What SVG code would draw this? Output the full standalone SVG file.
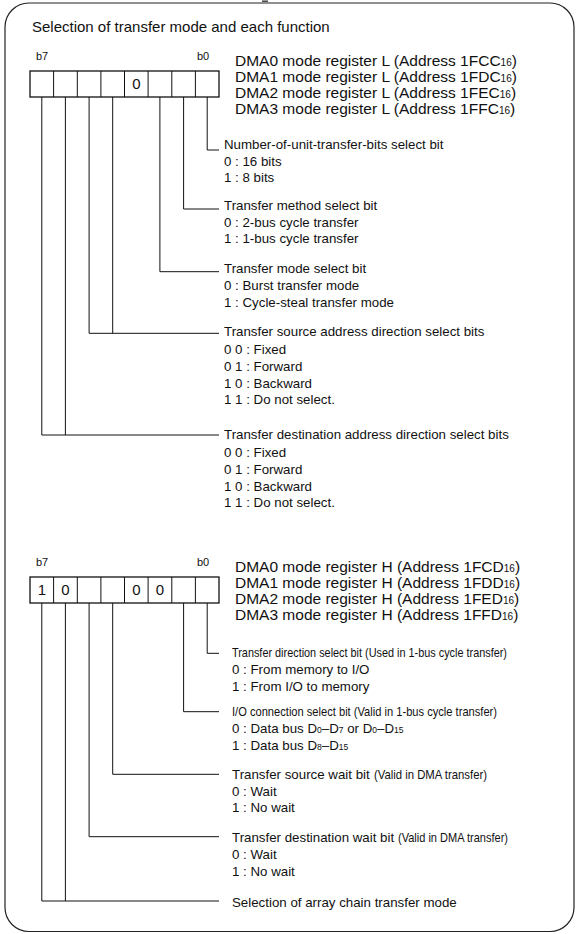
<svg xmlns="http://www.w3.org/2000/svg" width="578" height="934" viewBox="0 0 578 934">
<defs>
<style>
text{font-family:"Liberation Sans",Arial,sans-serif;fill:#111}
.t{font-size:15px}
.reg{font-size:15.5px}
.sub{font-size:10px}
.d{font-size:13.3px}
.c{font-size:13px}
.s{font-size:8.5px}
.bl{font-size:11px}
.dig{font-size:15px}
.box{fill:none;stroke:#111;stroke-width:1.3}
.cell{stroke:#111;stroke-width:1}
.ld{fill:none;stroke:#111;stroke-width:1}
.frame{fill:none;stroke:#222;stroke-width:1.2}
</style>
</defs>
<rect width="578" height="934" fill="#fff"/>
<rect class="frame" x="5" y="3" width="569" height="928.5" rx="24" ry="24"/>
<line x1="262" y1="1.2" x2="268" y2="1.2" stroke="#444" stroke-width="1.5"/>
<text class="t" x="32" y="31.5">Selection of transfer mode and each function</text>

<g id="regL">
<text class="bl" x="36" y="60">b7</text>
<text class="bl" x="197" y="60">b0</text>
<rect class="box" x="30" y="71" width="189" height="26"/>
<path class="cell" d="M53.6 71V97M77.3 71V97M100.9 71V97M124.5 71V97M148.1 71V97M171.8 71V97M195.4 71V97"/>
<text class="dig" x="136.3" y="89" text-anchor="middle">0</text>
<text class="reg" x="235" y="65.7">DMA0 mode register L (Address 1FCC<tspan class="sub">16</tspan>)</text>
<text class="reg" x="235" y="81.7">DMA1 mode register L (Address 1FDC<tspan class="sub">16</tspan>)</text>
<text class="reg" x="235" y="97.7">DMA2 mode register L (Address 1FEC<tspan class="sub">16</tspan>)</text>
<text class="reg" x="235" y="113.7">DMA3 mode register L (Address 1FFC<tspan class="sub">16</tspan>)</text>
</g>

<g id="regH">
<text class="bl" x="36" y="566">b7</text>
<text class="bl" x="197" y="566">b0</text>
<rect class="box" x="30" y="577" width="189" height="26"/>
<path class="cell" d="M53.6 577V603M77.3 577V603M100.9 577V603M124.5 577V603M148.1 577V603M171.8 577V603M195.4 577V603"/>
<text class="dig" x="41.8" y="595" text-anchor="middle">1</text>
<text class="dig" x="65.4" y="595" text-anchor="middle">0</text>
<text class="dig" x="136.3" y="595" text-anchor="middle">0</text>
<text class="dig" x="159.9" y="595" text-anchor="middle">0</text>
<text class="reg" x="235" y="571.7">DMA0 mode register H (Address 1FCD<tspan class="sub">16</tspan>)</text>
<text class="reg" x="235" y="587.7">DMA1 mode register H (Address 1FDD<tspan class="sub">16</tspan>)</text>
<text class="reg" x="235" y="603.7">DMA2 mode register H (Address 1FED<tspan class="sub">16</tspan>)</text>
<text class="reg" x="235" y="619.7">DMA3 mode register H (Address 1FFD<tspan class="sub">16</tspan>)</text>
</g>

<g id="connectors">
<path class="ld" d="M207.2 97V150H219"/>
<path class="ld" d="M183.6 97V209H219"/>
<path class="ld" d="M159.9 97V271.7H219"/>
<path class="ld" d="M89.1 97V333.3H219M112.7 97V333.3"/>
<path class="ld" d="M41.8 97V435H219M65.4 97V435"/>
<path class="ld" d="M207.2 603V653.3H219"/>
<path class="ld" d="M183.6 603V711.7H219"/>
<path class="ld" d="M112.7 603V774.3H219"/>
<path class="ld" d="M89.1 603V836.7H219"/>
<path class="ld" d="M41.8 603V901H219M65.4 603V901"/>
</g>

<g id="unitbits">
<text class="d" x="224" y="148.5">Number-of-unit-transfer-bits select bit</text>
<text class="d" x="224" y="165.5">0 : 16 bits</text>
<text class="d" x="224" y="182.3">1 : 8 bits</text>
</g>
<g id="method">
<text class="d" x="224" y="210">Transfer method select bit</text>
<text class="d" x="224" y="226.7">0 : 2-bus cycle transfer</text>
<text class="d" x="224" y="243.3">1 : 1-bus cycle transfer</text>
</g>
<g id="mode">
<text class="d" x="224" y="273.3">Transfer mode select bit</text>
<text class="d" x="224" y="290">0 : Burst transfer mode</text>
<text class="d" x="224" y="306.7">1 : Cycle-steal transfer mode</text>
</g>
<g id="srcdir">
<text class="d" x="224" y="336">Transfer source address direction select bits</text>
<text class="d" x="224" y="354">0 0 : Fixed</text>
<text class="d" x="224" y="371">0 1 : Forward</text>
<text class="d" x="224" y="387.7">1 0 : Backward</text>
<text class="d" x="224" y="404.3">1 1 : Do not select.</text>
</g>
<g id="dstdir">
<text class="d" x="224" y="439">Transfer destination address direction select bits</text>
<text class="d" x="224" y="457">0 0 : Fixed</text>
<text class="d" x="224" y="474">0 1 : Forward</text>
<text class="d" x="224" y="490.7">1 0 : Backward</text>
<text class="d" x="224" y="507">1 1 : Do not select.</text>
</g>

<g id="direction">
<text class="c" x="232" y="657.3" textLength="275" lengthAdjust="spacingAndGlyphs">Transfer direction select bit (Used in 1-bus cycle transfer)</text>
<text class="d" x="232" y="674">0 : From memory to I/O</text>
<text class="d" x="232" y="690.7">1 : From I/O to memory</text>
</g>
<g id="ioconn">
<text class="c" x="232" y="715.7" textLength="265" lengthAdjust="spacingAndGlyphs">I/O connection select bit (Valid in 1-bus cycle transfer)</text>
<text class="d" x="232" y="733.3">0 : Data bus D<tspan class="s">0</tspan>–D<tspan class="s">7</tspan> or D<tspan class="s">0</tspan>–D<tspan class="s">15</tspan></text>
<text class="d" x="232" y="750">1 : Data bus D<tspan class="s">8</tspan>–D<tspan class="s">15</tspan></text>
</g>
<g id="srcwait">
<text class="d" x="232" y="779">Transfer source wait bit</text>
<text class="c" x="374" y="779" textLength="113" lengthAdjust="spacingAndGlyphs">(Valid in DMA transfer)</text>
<text class="d" x="232" y="795.7">0 : Wait</text>
<text class="d" x="232" y="812.3">1 : No wait</text>
</g>
<g id="dstwait">
<text class="d" x="232" y="842.3">Transfer destination wait bit</text>
<text class="c" x="398" y="842.3" textLength="110" lengthAdjust="spacingAndGlyphs">(Valid in DMA transfer)</text>
<text class="d" x="232" y="859">0 : Wait</text>
<text class="d" x="232" y="875.7">1 : No wait</text>
</g>
<g id="arraychain">
<text class="d" x="232" y="907.3">Selection of array chain transfer mode</text>
</g>
</svg>
